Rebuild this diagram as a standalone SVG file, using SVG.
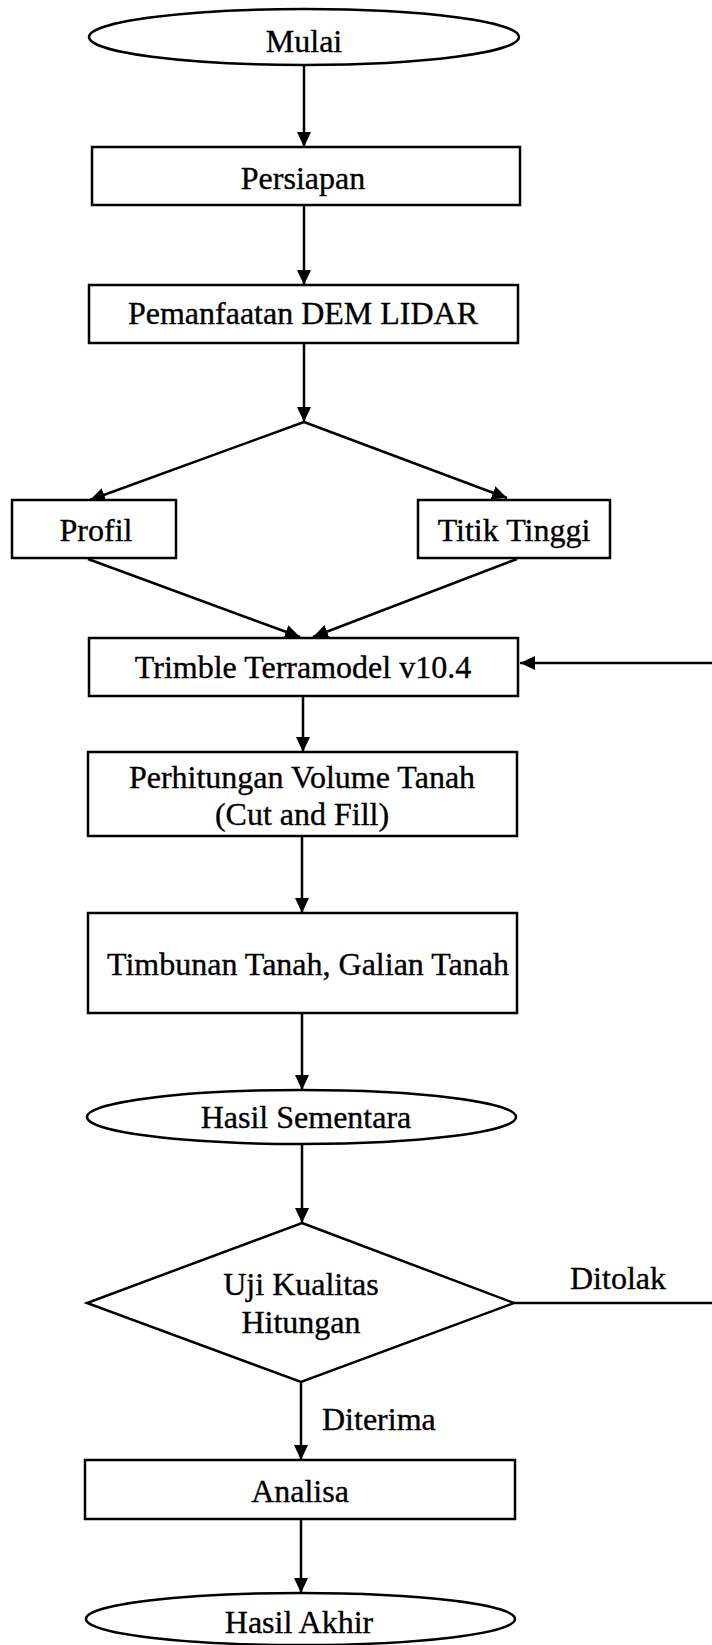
<svg xmlns="http://www.w3.org/2000/svg" width="712" height="1645" viewBox="0 0 712 1645">
<style>
.shape{fill:#fff;stroke:#000;stroke-width:2.5}
.conn{fill:none;stroke:#000;stroke-width:2.5}
text{font-family:"Liberation Serif","Times New Roman",serif;font-size:32px;fill:#000;stroke:#000;stroke-width:0.35}
.c{text-anchor:middle}
</style>
<defs>
<marker id="ah" markerUnits="userSpaceOnUse" markerWidth="16" markerHeight="16" refX="15" refY="7" orient="auto">
<path d="M0,0 L15,7 L0,14 z" fill="#000"/>
</marker>
</defs>
<rect width="712" height="1645" fill="#fff"/>
<g id="connectors">
<line class="conn" x1="304" y1="65" x2="304" y2="147" marker-end="url(#ah)"/>
<line class="conn" x1="304" y1="205" x2="304" y2="285" marker-end="url(#ah)"/>
<line class="conn" x1="304" y1="343" x2="304" y2="422" marker-end="url(#ah)"/>
<line class="conn" x1="304" y1="422" x2="90" y2="500" marker-end="url(#ah)"/>
<line class="conn" x1="304" y1="422" x2="507" y2="498" marker-end="url(#ah)"/>
<line class="conn" x1="88" y1="559" x2="300" y2="637" marker-end="url(#ah)"/>
<line class="conn" x1="517" y1="559" x2="313" y2="637" marker-end="url(#ah)"/>
<line class="conn" x1="303" y1="696" x2="303" y2="752" marker-end="url(#ah)"/>
<line class="conn" x1="302" y1="836" x2="302" y2="913" marker-end="url(#ah)"/>
<line class="conn" x1="302" y1="1013" x2="302" y2="1090" marker-end="url(#ah)"/>
<line class="conn" x1="302" y1="1144" x2="302" y2="1223" marker-end="url(#ah)"/>
<line class="conn" x1="301" y1="1382" x2="301" y2="1460" marker-end="url(#ah)"/>
<line class="conn" x1="301" y1="1519" x2="301" y2="1593" marker-end="url(#ah)"/>
<line class="conn" x1="514" y1="1303" x2="712" y2="1303"/>
<line class="conn" x1="712" y1="663" x2="520" y2="663" marker-end="url(#ah)"/>
<text x="570" y="1289">Ditolak</text>
<text x="322" y="1430">Diterima</text>
</g>
<g id="mulai">
<ellipse class="shape" cx="304" cy="37" rx="215" ry="28"/>
<text class="c" x="304" y="52">Mulai</text>
</g>
<g id="persiapan">
<rect class="shape" x="92" y="147" width="428" height="58"/>
<text class="c" x="303" y="189">Persiapan</text>
</g>
<g id="pemanfaatan">
<rect class="shape" x="89" y="285" width="429" height="58"/>
<text class="c" x="303" y="324">Pemanfaatan DEM LIDAR</text>
</g>
<g id="profil">
<rect class="shape" x="12" y="500" width="164" height="58"/>
<text class="c" x="96" y="541">Profil</text>
</g>
<g id="titik-tinggi">
<rect class="shape" x="418" y="500" width="192" height="58"/>
<text class="c" x="514" y="541">Titik Tinggi</text>
</g>
<g id="trimble">
<rect class="shape" x="89" y="638" width="429" height="58"/>
<text class="c" x="303" y="678">Trimble Terramodel v10.4</text>
</g>
<g id="perhitungan">
<rect class="shape" x="88" y="752" width="429" height="84"/>
<text class="c" x="302" y="788">Perhitungan Volume Tanah</text>
<text class="c" x="302" y="825">(Cut and Fill)</text>
</g>
<g id="timbunan">
<rect class="shape" x="88" y="913" width="429" height="100"/>
<text class="c" x="308" y="975">Timbunan Tanah, Galian Tanah</text>
</g>
<g id="hasil-sementara">
<ellipse class="shape" cx="301.5" cy="1117" rx="214.5" ry="27"/>
<text class="c" x="306" y="1128">Hasil Sementara</text>
</g>
<g id="uji-kualitas">
<polygon class="shape" points="302,1223 514,1303 301,1382 87,1303"/>
<text class="c" x="301" y="1295">Uji Kualitas</text>
<text class="c" x="301" y="1333">Hitungan</text>
</g>
<g id="analisa">
<rect class="shape" x="85" y="1460" width="430" height="59"/>
<text class="c" x="300" y="1502">Analisa</text>
</g>
<g id="hasil-akhir">
<ellipse class="shape" cx="300.5" cy="1619" rx="214.5" ry="26"/>
<text class="c" x="299" y="1633">Hasil Akhir</text>
</g>
</svg>
